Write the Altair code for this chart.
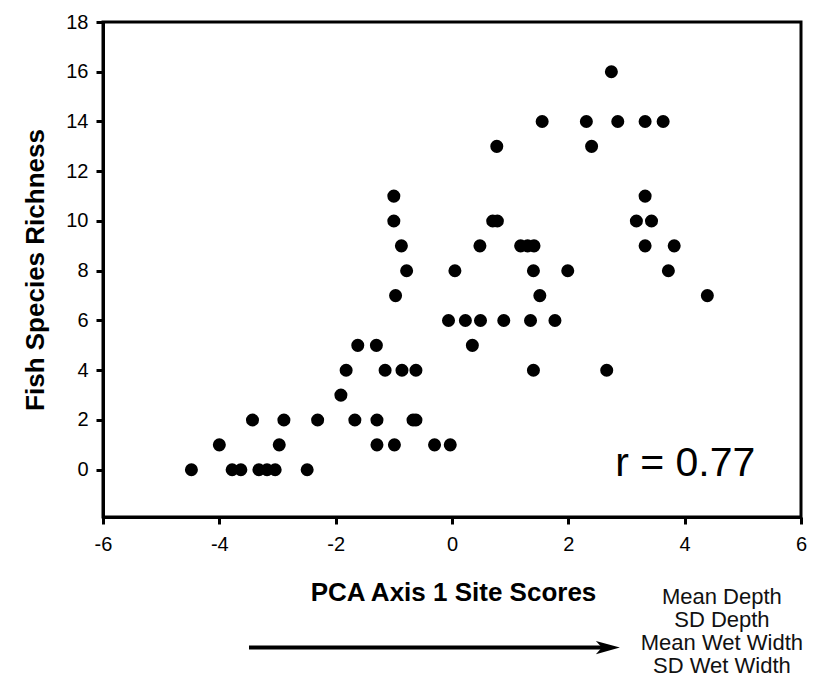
import altair as alt
import pandas as pd

# PCA axis 1 site scores and fish species richness
pca_score = [
    -4.48, -3.78, -3.63, -3.32, -3.18, -3.04, -2.49,          # 0
    -4.00, -2.97, -1.29, -0.99, -0.30, -0.03,                 # 1
    -3.43, -2.89, -2.31, -1.67, -1.29, -0.67, -0.62,          # 2
    -1.91,                                                    # 3
    -1.82, -1.15, -0.86, -0.62, 1.40, 2.66,                   # 4
    -1.62, -1.30, 0.35,                                       # 5
    -0.06, 0.23, 0.49, 0.89, 1.35, 1.77,                      # 6
    -0.97, 1.51, 4.39,                                        # 7
    -0.78, 0.05, 1.40, 1.99, 3.72,                            # 8
    -0.87, 0.48, 1.18, 1.30, 1.41, 3.32, 3.82,                # 9
    -1.00, 0.70, 0.78, 3.17, 3.43,                            # 10
    -1.00, 3.32,                                              # 11
    0.77, 2.40,                                               # 13
    1.55, 2.31, 2.85, 3.32, 3.63,                             # 14
    2.74,                                                     # 16
]
richness = (
    [0] * 7 + [1] * 6 + [2] * 7 + [3] * 1 + [4] * 6 + [5] * 3 + [6] * 6
    + [7] * 3 + [8] * 5 + [9] * 7 + [10] * 5 + [11] * 2 + [13] * 2
    + [14] * 5 + [16] * 1
)

x_ticks = [-6, -4, -2, 0, 2, 4, 6]
y_ticks = [0, 2, 4, 6, 8, 10, 12, 14, 16, 18]

# annotations (in data units)
r_label = ["r = 0.77"]
r_pos_x = [4.01]
r_pos_y = [-0.24]

var_labels = ["Mean Depth", "SD Depth", "Mean Wet Width", "SD Wet Width"]
var_x = [4.64, 4.64, 4.64, 4.64]
var_y = [-5.38, -6.31, -7.23, -8.16]

arrow_x_start = [-3.49]
arrow_x_end = [2.61]
arrow_head_x = [2.68]
arrow_y = [-7.15]

FONT = "Liberation Sans"

df = pd.DataFrame({"x": pca_score, "y": richness})
df_r = pd.DataFrame({"x": r_pos_x, "y": r_pos_y, "t": r_label})
df_vars = pd.DataFrame({"x": var_x, "y": var_y, "t": var_labels})
df_arrow = pd.DataFrame({"x": arrow_x_start, "x2": arrow_x_end, "hx": arrow_head_x, "y": arrow_y})

xscale = alt.Scale(domain=[-6, 6], nice=False, zero=False)
yscale = alt.Scale(domain=[-1.9, 18], nice=False, zero=False)

xaxis = alt.Axis(
    values=x_ticks, labelExpr="toString(datum.value)", grid=False, tickSize=7, tickWidth=3,
    tickColor="black", domainColor="black", domainWidth=3, labelFont=FONT, labelFontSize=20,
    labelColor="black", labelPadding=10, labelFlush=False, labelOverlap=False,
    title="PCA Axis 1 Site Scores", titleFont=FONT, titleFontSize=26,
    titleFontWeight="bold", titleColor="black", titleX=350, titleY=75,
    titleBaseline="middle", titleAlign="center",
)
yaxis = alt.Axis(
    values=y_ticks, labelExpr="toString(datum.value)", grid=False, tickSize=7, tickWidth=3,
    tickColor="black", domainColor="black", domainWidth=3, labelFont=FONT, labelFontSize=20,
    labelColor="black", labelPadding=8, labelOverlap=False,
    title="Fish Species Richness", titleFont=FONT, titleFontSize=26,
    titleFontWeight="bold", titleColor="black", titleX=-68, titleY=247.5,
    titleBaseline="middle", titleAlign="center", titleAngle=-90,
)

points = alt.Chart(df).mark_circle(size=170, color="black", opacity=1).encode(
    x=alt.X("x:Q", scale=xscale, axis=xaxis),
    y=alt.Y("y:Q", scale=yscale, axis=yaxis),
)

r_text = alt.Chart(df_r).mark_text(
    font=FONT, fontSize=41, color="black", align="center", baseline="alphabetic", clip=False
).encode(x=alt.X("x:Q", scale=xscale), y=alt.Y("y:Q", scale=yscale), text="t:N")

var_text = alt.Chart(df_vars).mark_text(
    font=FONT, fontSize=22, color="#111111", align="center", baseline="alphabetic", clip=False
).encode(x=alt.X("x:Q", scale=xscale), y=alt.Y("y:Q", scale=yscale), text="t:N")

shaft = alt.Chart(df_arrow).mark_rule(color="black", strokeWidth=4, clip=False).encode(
    x=alt.X("x:Q", scale=xscale), x2="x2:Q", y=alt.Y("y:Q", scale=yscale)
)
head = alt.Chart(df_arrow).mark_point(
    shape="M-1,-0.55L1,0L-1,0.55L-0.5,0Z", size=576, filled=True,
    color="black", opacity=1, clip=False
).encode(x=alt.X("hx:Q", scale=xscale), y=alt.Y("y:Q", scale=yscale))

chart = alt.layer(points, r_text, var_text, shaft, head).properties(
    width=698, height=495,
    autosize=alt.AutoSizeParams(type="none"),
    padding={"left": 95, "top": 14, "right": 7, "bottom": 161},
    background="white",
).configure_view(stroke="black", strokeWidth=3)

chart.save("out.html", embed_options={"renderer": "svg", "actions": False})
